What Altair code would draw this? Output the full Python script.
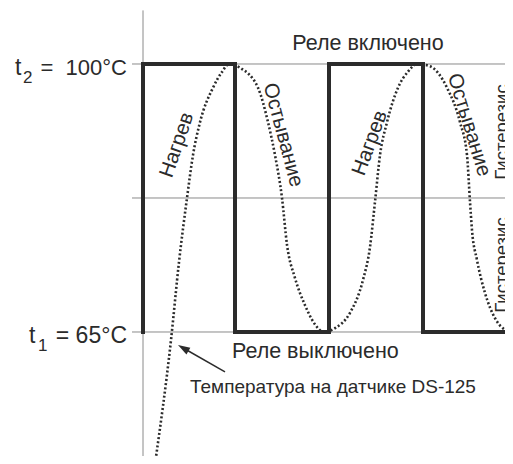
import altair as alt
import pandas as pd

# --- data -------------------------------------------------------------
# sensor temperature (dotted curve): time (arb. units) / temperature, degC
temp_time = [12, 28, 36, 44, 50, 57, 70, 79, 86, 97, 115, 125, 132, 139, 144, 152, 162, 175, 180,
             192, 207, 220, 227, 232, 237, 244, 255, 265, 274, 287, 304, 317, 324, 327, 329, 334,
             342, 352, 362, 370]
temp_vals = [47.76, 63.95, 74.14, 82.5, 88.1, 92.4, 96.9, 98.96, 100, 99.5, 96.9, 92.4, 88.1, 82.5,
             76.4, 72.05, 68.5, 65.5, 65, 65.5, 67.5, 71.8, 76.1, 82.0, 88.1, 92.4, 96.9, 99.0, 100,
             99.7, 96.9, 92.4, 88.1, 82.0, 78.3, 74.4, 70.1, 66.8, 65.3, 65]

# relay state (thick square wave)
relay_time = [0, 0, 92, 92, 186, 186, 280, 280, 361]
relay_vals = [65, 100, 100, 65, 65, 100, 100, 65, 65]

# reference levels
t1, t2 = 65, 100
mid_level = 82.5
level_vals = [t2, mid_level, t1]
level_start, level_end = -11, 370
axis_time = 0
axis_bottom, axis_top = 47.76, 107.0

# tick label pieces: "t", subscript, rest
tick_t = ["t", "t"]
tick_sub = ["2", "1"]
tick_rest = ["=\u00a0\u00a0100°C", "\u00a0= 65°C"]
tick_vals = [t2, t1]

X_DOMAIN = [-135, 362]
Y_DOMAIN = [48.806, 107.313]

FONT = "Liberation Sans"
DARK = "#2b2b2b"
GRID = "#8a8a8a"

xs = alt.Scale(domain=X_DOMAIN, nice=False, zero=False)
ys = alt.Scale(domain=Y_DOMAIN, nice=False, zero=False)


def X(f):
    return alt.X(f, type="quantitative", scale=xs, axis=None)


def Y(f):
    return alt.Y(f, type="quantitative", scale=ys, axis=None)


# --- thin reference lines ---
levels_df = pd.DataFrame({"v": level_vals, "x0": level_start, "x1": level_end})
levels = alt.Chart(levels_df).mark_rule(color=GRID, strokeWidth=1, clip=True).encode(
    x=X("x0"), x2="x1", y=Y("v"))

axis_df = pd.DataFrame({"x": [axis_time], "y0": [axis_bottom], "y1": [axis_top]})
vaxis = alt.Chart(axis_df).mark_rule(color=GRID, strokeWidth=1, clip=True).encode(
    x=X("x"), y=Y("y0"), y2="y1")

# --- temperature curve ---
temp_df = pd.DataFrame({"t": temp_time, "v": temp_vals, "o": range(len(temp_time))})
curve = alt.Chart(temp_df).mark_line(
    color=DARK, strokeWidth=2.6, strokeDash=[2, 2.2], interpolate="monotone", clip=True
).encode(x=X("t"), y=Y("v"), order="o:Q")

# --- relay ---
relay_df = pd.DataFrame({"t": relay_time, "v": relay_vals, "o": range(len(relay_time))})
relay = alt.Chart(relay_df).mark_line(
    color=DARK, strokeWidth=4, strokeJoin="miter", strokeCap="square", clip=True
).encode(x=X("t"), y=Y("v"), order="o:Q")

# --- tick labels (t, subscript, rest) ---
tl_df = pd.DataFrame({"x": [-128, -114], "v": [98.56, 63.56], "label": tick_t})
tl_t = alt.Chart(tl_df).mark_text(
    align="left", baseline="alphabetic", font=FONT, fontSize=23, color=DARK
).encode(x=X("x"), y=Y("v"), text="label:N")

ts_df = pd.DataFrame({"x": [-120, -105], "v": [97.52, 62.52], "label": tick_sub})
tl_sub = alt.Chart(ts_df).mark_text(
    align="left", baseline="alphabetic", font=FONT, fontSize=17, color=DARK
).encode(x=X("x"), y=Y("v"), text="label:N")

tr_df = pd.DataFrame({"x": [-16, -16], "v": [98.56, 63.56], "label": tick_rest,
                      "fs": [22, 23]})
tl_rest = alt.Chart(tr_df).mark_text(
    align="right", baseline="alphabetic", font=FONT, color=DARK
).encode(x=X("x"), y=Y("v"), text="label:N", size=alt.Size("fs:Q", scale=None))

# --- relay labels ---
on_df = pd.DataFrame({"x": [225], "v": [101.83], "label": ["Реле включено"]})
on_lbl = alt.Chart(on_df).mark_text(
    align="center", baseline="alphabetic", font=FONT, fontSize=21.5, color=DARK
).encode(x=X("x"), y=Y("v"), text="label:N")

off_df = pd.DataFrame({"x": [89], "v": [61.6], "label": ["Реле выключено"]})
off_lbl = alt.Chart(off_df).mark_text(
    align="left", baseline="alphabetic", font=FONT, fontSize=21.5, color=DARK
).encode(x=X("x"), y=Y("v"), text="label:N")

sensor_df = pd.DataFrame({"x": [47], "v": [57.03], "label": ["Температура на датчике DS-125"]})
sensor_lbl = alt.Chart(sensor_df).mark_text(
    align="left", baseline="alphabetic", font=FONT, fontSize=19, color=DARK
).encode(x=X("x"), y=Y("v"), text="label:N")

# --- arrow ---
arrow_df = pd.DataFrame({"x0": [82], "y0": [59.78], "x1": [40.2], "y1": [62.91]})
arrow_line = alt.Chart(arrow_df).mark_rule(color=DARK, strokeWidth=1.5).encode(
    x=X("x0"), y=Y("y0"), x2="x1", y2="y1")
arrow_head = alt.Chart(arrow_df).mark_point(
    shape="M0,-1L0.65,1L-0.65,1Z", filled=True, color=DARK, size=144, angle=300, opacity=1
).encode(x=X("x1"), y=Y("y1"))

# --- rotated phase labels ---
phase_df = pd.DataFrame({
    "x": [34, 227, 140, 326],
    "v": [89.42, 89.68, 90.73, 92.03],
    "ang": [289, 290, 75, 73],
    "label": ["Нагрев", "Нагрев", "Остывание", "Остывание"],
})
phase = alt.Chart(phase_df).mark_text(
    align="center", baseline="middle", font=FONT, fontSize=20.5, color=DARK
).encode(x=X("x"), y=Y("v"), text="label:N", angle=alt.Angle("ang:Q", scale=None))

hyst_df = pd.DataFrame({"x": [350, 350], "v": [91.12, 73.75], "label": ["Гистерезис", "Гистерезис"]})
hyst = alt.Chart(hyst_df).mark_text(
    align="center", baseline="top", font=FONT, fontSize=18.5, color=DARK, angle=270, clip=True
).encode(x=X("x"), y=Y("v"), text="label:N")

chart = alt.layer(
    levels, vaxis, curve, relay, tl_t, tl_sub, tl_rest, on_lbl, off_lbl, sensor_lbl,
    arrow_line, arrow_head, phase, hyst
).properties(
    width=497, height=448, padding=0,
    autosize=alt.AutoSizeParams(type="none"),
    background="white",
).configure_view(stroke=None)

chart.save("out.html", embed_options={"renderer": "svg", "actions": False})
